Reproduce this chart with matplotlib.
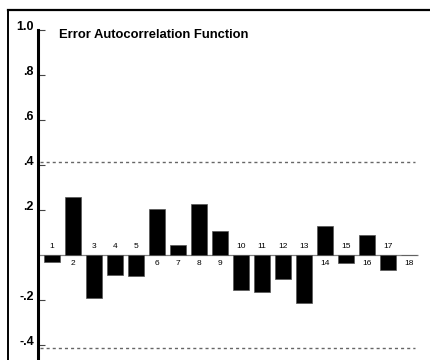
import matplotlib
matplotlib.use("Agg")
import matplotlib.pyplot as plt

# error autocorrelation by lag
lags = list(range(1, 19))
acf = [-0.033, 0.256, -0.193, -0.087, -0.092, 0.203, 0.043, 0.225, 0.108,
       -0.157, -0.166, -0.107, -0.213, 0.129, -0.037, 0.087, -0.065, 0.0]
conf_limit = 0.413
ytick_vals = [1.0, 0.8, 0.6, 0.4, 0.2, -0.2, -0.4]
ytick_text = ["1.0", ".8", ".6", ".4", ".2", "-.2", "-.4"]
title = "Error Autocorrelation Function"

plt.rcParams["font.family"] = ["Liberation Sans", "DejaVu Sans"]

W, H = 430, 360
fig = plt.figure(figsize=(W / 100, H / 100), dpi=100)

# outer frame (left and top edges only are visible)
frame = fig.add_axes([0, 0, 1, 1])
frame.set_xlim(0, W)
frame.set_ylim(H, 0)
frame.axis("off")
frame.plot([7.5, 7.5], [10, H], color="black", lw=1.4)
frame.plot([7.5, W], [10, 10], color="black", lw=1.6)

# plot area: y axis at x=38px, value 1.0 at y=30px, 225 px per unit
left_px, top_px = 38, 30
ax = fig.add_axes([left_px / W, 0, (W - left_px) / W, (H - top_px) / H])
ax.patch.set_alpha(0)
ax.set_ylim(1.0 - (H - top_px) / 225, 1.0)
ax.set_xlim(1 + (left_px - 52) / 21, 1 + (W - 52) / 21)

for s in ["top", "right", "bottom"]:
    ax.spines[s].set_visible(False)
ax.spines["left"].set_linewidth(2.2)
ax.set_xticks([])
ax.set_yticks(ytick_vals)
ax.set_yticklabels(ytick_text, fontsize=9, fontweight="bold", va="baseline")
ax.tick_params(axis="y", direction="in", length=5, width=0.8, color="#444444", pad=3)

# zero line and confidence limits
x0 = ax.get_xlim()[0]
ax.hlines(0, x0, 18.43, color="#808080", lw=0.9, zorder=1)
for c in (conf_limit, -conf_limit):
    ax.hlines(c, x0 + 0.1, 18.3, color="#666666", lw=1.0,
              linestyles=(0, (2.2, 2.2)), zorder=1)

ax.bar(lags, acf, width=16 / 21, color="black", edgecolor="#555555",
       linewidth=0.5, zorder=2)

for k, v in zip(lags, acf):
    y = 0.037 if v < 0 else -0.037
    ax.text(k, y, str(k), ha="center", va="center", fontsize=6)

ax.text(59 / W, 1 - 35 / H, title, transform=fig.transFigure,
        fontsize=9.4, fontweight="bold", ha="left", va="center")

fig.savefig("out.png", dpi=100)
